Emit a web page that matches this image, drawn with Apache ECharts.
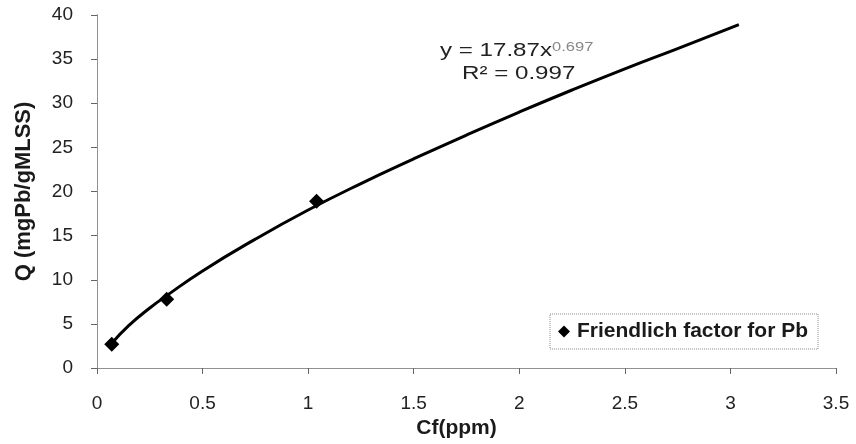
<!DOCTYPE html>
<html>
<head>
<meta charset="utf-8">
<script src="https://cdn.jsdelivr.net/npm/echarts@6/dist/echarts.min.js"></script>
<style>html,body{margin:0;padding:0;background:#fff}#c{width:856px;height:444px}</style>
</head>
<body>
<div id="c"></div>
<script>
// Measured data points (Cf in ppm, Q in mgPb/gMLSS)
var pointsX = [0.07, 0.33, 1.04];
var pointsY = [2.7, 7.8, 18.9];
// Trend line
var trendX = [0.07, 0.15, 0.25, 0.33, 0.5, 0.75, 1.0, 1.25, 1.5, 1.75, 2.0, 2.25, 2.5, 2.75, 3.04];
var trendY = [2.8, 4.8, 6.8, 8.2, 11.0, 14.6, 17.9, 20.9, 23.7, 26.4, 29.0, 31.5, 33.9, 36.2, 38.9];
var seriesName = 'Friendlich factor for Pb';
var xTitle = 'Cf(ppm)';
var yTitle = 'Q (mgPb/gMLSS)';
var eqLine1 = 'y = 17.87x';
var eqExp = '0.697';
var eqLine2 = 'R² = 0.997';

var font = '"Liberation Sans", Arial, sans-serif';
var chart = echarts.init(document.getElementById('c'), null, {renderer: 'canvas'});
var dotted = {color: '#8a8a8a', width: 1, type: 'dotted'};
chart.setOption({
  animation: false,
  backgroundColor: '#fff',
  textStyle: {fontFamily: font},
  grid: {left: 97, right: 20, top: 15, bottom: 76, containLabel: false},
  legend: {
    data: [{name: seriesName, icon: 'diamond', itemStyle: {color: '#000', opacity: 1}}],
    left: 550, top: 314,
    orient: 'horizontal',
    itemWidth: 12, itemHeight: 12, itemGap: 0,
    padding: [7, 10, 7, 8],
    borderColor: '#8a8a8a', borderWidth: 1, borderType: 'dotted',
    textStyle: {fontFamily: font, fontSize: 21, fontWeight: 'bold', color: '#1a1a1a', padding: [0, 0, 0, 2]}
  },
  xAxis: [{
    type: 'value', min: 0, max: 3.5, interval: 0.5,
    name: xTitle, nameLocation: 'middle', nameGap: 50,
    nameTextStyle: {fontFamily: font, fontSize: 21, fontWeight: 'bold', color: '#1a1a1a', padding: [0, 20, 0, 0]},
    axisLine: {show: true, lineStyle: dotted},
    axisTick: {show: true, inside: false, length: 6, lineStyle: {color: '#666'}},
    axisLabel: {fontFamily: font, fontSize: 19, color: '#222', margin: 26},
    splitLine: {show: false}
  }, {
    type: 'value', position: 'top', min: 0, max: 3.5,
    axisLine: {show: true, lineStyle: dotted}, axisTick: {show: false}, axisLabel: {show: false}, splitLine: {show: false}
  }],
  yAxis: [{
    type: 'value', min: 0, max: 40, interval: 5,
    name: yTitle, nameLocation: 'middle', nameGap: 62, nameRotate: 90,
    nameTextStyle: {fontFamily: font, fontSize: 22, fontWeight: 'bold', color: '#1a1a1a'},
    axisLine: {show: true, lineStyle: dotted},
    axisTick: {show: true, inside: false, length: 6, lineStyle: {color: '#666'}},
    axisLabel: {fontFamily: font, fontSize: 19, color: '#222', margin: 24},
    splitLine: {show: false}
  }, {
    type: 'value', position: 'right', min: 0, max: 40,
    axisLine: {show: true, lineStyle: dotted}, axisTick: {show: false}, axisLabel: {show: false}, splitLine: {show: false}
  }],
  series: [{
    name: 'trend', type: 'line', smooth: true, showSymbol: false, symbol: 'none',
    data: trendX.map(function (x, i) { return [x, trendY[i]]; }),
    lineStyle: {color: '#000', width: 3}, z: 2, silent: true
  }, {
    name: seriesName, type: 'scatter', symbol: 'diamond', symbolSize: 15,
    data: pointsX.map(function (x, i) { return [x, pointsY[i]]; }),
    itemStyle: {color: '#000', opacity: 1}, z: 3
  }],
  graphic: [{
    type: 'text', x: 440, y: 41, scaleX: 1.27, scaleY: 1,
    style: {
      text: '{a|' + eqLine1 + '}{s|' + eqExp + '}',
      rich: {
        a: {fontFamily: font, fontSize: 19, fill: '#222', color: '#222'},
        s: {fontFamily: font, fontSize: 13, fill: '#888', color: '#888', verticalAlign: 'top'}
      }
    }
  }, {
    type: 'text', x: 462, y: 64, scaleX: 1.27, scaleY: 1,
    style: {text: eqLine2, fontFamily: font, fontSize: 19, fill: '#222'}
  }]
});
</script>
</body>
</html>
